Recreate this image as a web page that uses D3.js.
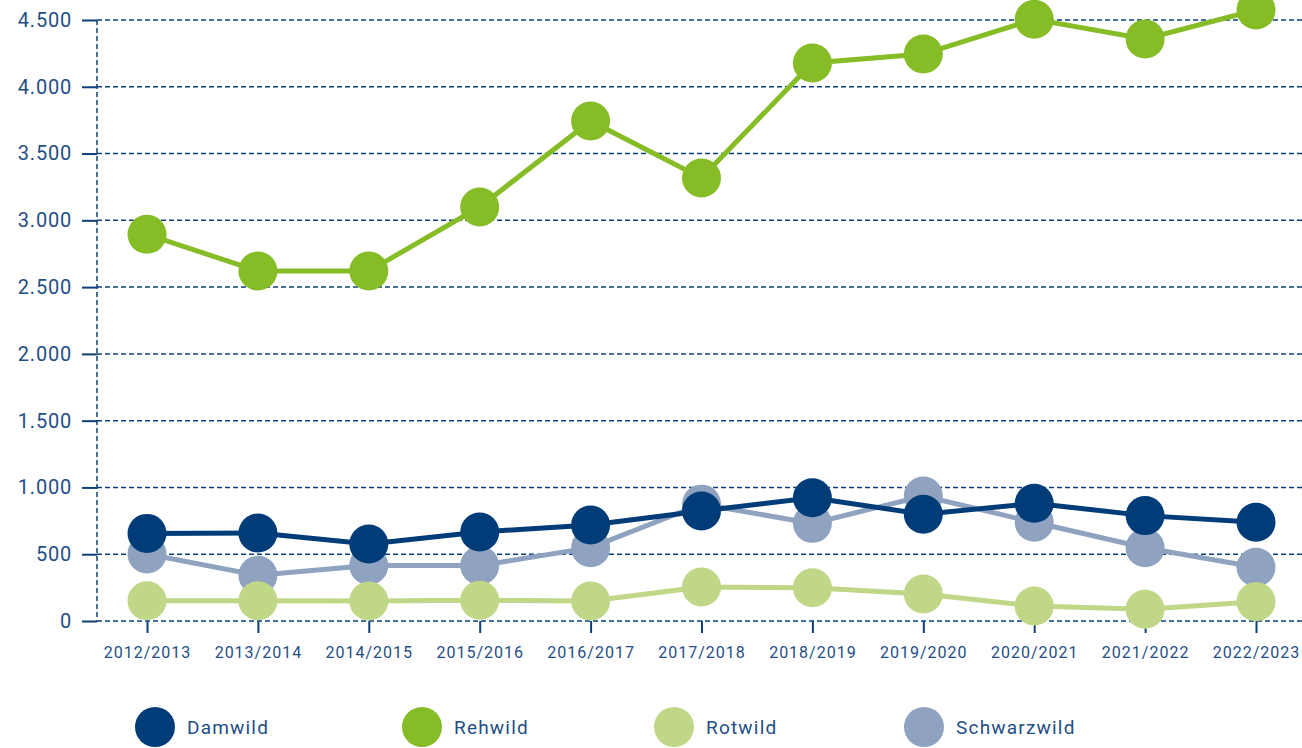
<!DOCTYPE html>
<html>
<head>
<meta charset="utf-8">
<script src="https://cdn.jsdelivr.net/npm/d3@7"></script>
<style>
  body { margin: 0; background: #fff; }
  svg text { font-family: "Roboto", "DejaVu Sans", sans-serif; fill: #1f4e85; }
</style>
</head>
<body>
<svg id="chart" width="1302" height="748"></svg>
<script>
var seasons = ['2012/2013', '2013/2014', '2014/2015', '2015/2016', '2016/2017', '2017/2018',
  '2018/2019', '2019/2020', '2020/2021', '2021/2022', '2022/2023'];
var damwild = [656, 659, 577, 666, 719, 824, 923, 799, 881, 789, 739];
var rehwild = [2895, 2620, 2620, 3100, 3744, 3317, 4178, 4245, 4505, 4358, 4575];
var rotwild = [152, 152, 150, 155, 150, 255, 249, 202, 112, 88, 145];
var schwarzwild = [502, 342, 415, 415, 549, 875, 731, 936, 739, 549, 402];
var yTicks = [0, 500, 1000, 1500, 2000, 2500, 3000, 3500, 4000, 4500];

var seriesList = [
  { name: 'Damwild', values: damwild, color: '#003c78' },
  { name: 'Rehwild', values: rehwild, color: '#86bc25' },
  { name: 'Rotwild', values: rotwild, color: '#bfd786' },
  { name: 'Schwarzwild', values: schwarzwild, color: '#8fa2bf' }
];
// paint order seen in the picture
var drawOrder = ['Schwarzwild', 'Rotwild', 'Damwild', 'Rehwild'];

var svg = d3.select('#chart');
var axisColor = '#0d3f7a';

var x = d3.scalePoint().domain(seasons).range([147, 1256]);
var y = d3.scaleLinear().domain([0, 4500]).range([621, 20]);
var fmt = function(v) { return d3.format(',')(v).replace(/,/g, '.'); };

// horizontal grid lines
svg.append('g').selectAll('line.grid').data(yTicks).enter().append('line')
  .attr('class', 'grid')
  .attr('x1', 97).attr('x2', 1302)
  .attr('y1', function(d) { return y(d); })
  .attr('y2', function(d) { return y(d); })
  .attr('stroke', axisColor)
  .attr('stroke-width', 1.5)
  .attr('stroke-dasharray', '5,3');

// vertical dashed axis
svg.append('line')
  .attr('x1', 97).attr('x2', 97)
  .attr('y1', y(4500)).attr('y2', y(0))
  .attr('stroke', axisColor)
  .attr('stroke-width', 1.5)
  .attr('stroke-dasharray', '5,3');

// y axis ticks and labels
var yAxis = d3.axisLeft(y).tickValues(yTicks).tickSize(15).tickPadding(10).tickFormat(fmt);
var gy = svg.append('g').attr('transform', 'translate(97,0)').call(yAxis);
gy.select('.domain').remove();
gy.selectAll('.tick line').attr('stroke', axisColor).attr('stroke-width', 2);
gy.selectAll('.tick text').attr('font-size', 20).style('font-family', null)
  .style('letter-spacing', '0.8px');

// x axis ticks and labels
var xAxis = d3.axisBottom(x).tickSize(12).tickPadding(14);
var gx = svg.append('g').attr('transform', 'translate(0,621)').call(xAxis);
gx.select('.domain').remove();
gx.selectAll('.tick line').attr('stroke', axisColor).attr('stroke-width', 2);
gx.selectAll('.tick text').attr('font-size', 16).style('font-family', null)
  .style('letter-spacing', '1px');

var line = d3.line()
  .x(function(d, i) { return x(seasons[i]); })
  .y(function(d) { return y(d); });

drawOrder.forEach(function(name) {
  var s = seriesList.find(function(t) { return t.name === name; });
  var g = svg.append('g').attr('class', 'series');
  g.append('path')
    .datum(s.values)
    .attr('d', line)
    .attr('fill', 'none')
    .attr('stroke', s.color)
    .attr('stroke-width', 5);
  g.selectAll('circle').data(s.values).enter().append('circle')
    .attr('cx', function(d, i) { return x(seasons[i]); })
    .attr('cy', function(d) { return y(d); })
    .attr('r', 19.5)
    .attr('fill', s.color);
});

// legend
var legendX = [155, 422, 674, 924];
var legend = svg.append('g').selectAll('g.leg').data(seriesList).enter().append('g')
  .attr('class', 'leg')
  .attr('transform', function(d, i) { return 'translate(' + legendX[i] + ',727)'; });
legend.append('circle').attr('r', 20).attr('fill', function(d) { return d.color; });
legend.append('text')
  .attr('x', 32).attr('y', 7)
  .attr('font-size', 19)
  .style('letter-spacing', '1.2px')
  .text(function(d) { return d.name; });
</script>
</body>
</html>
